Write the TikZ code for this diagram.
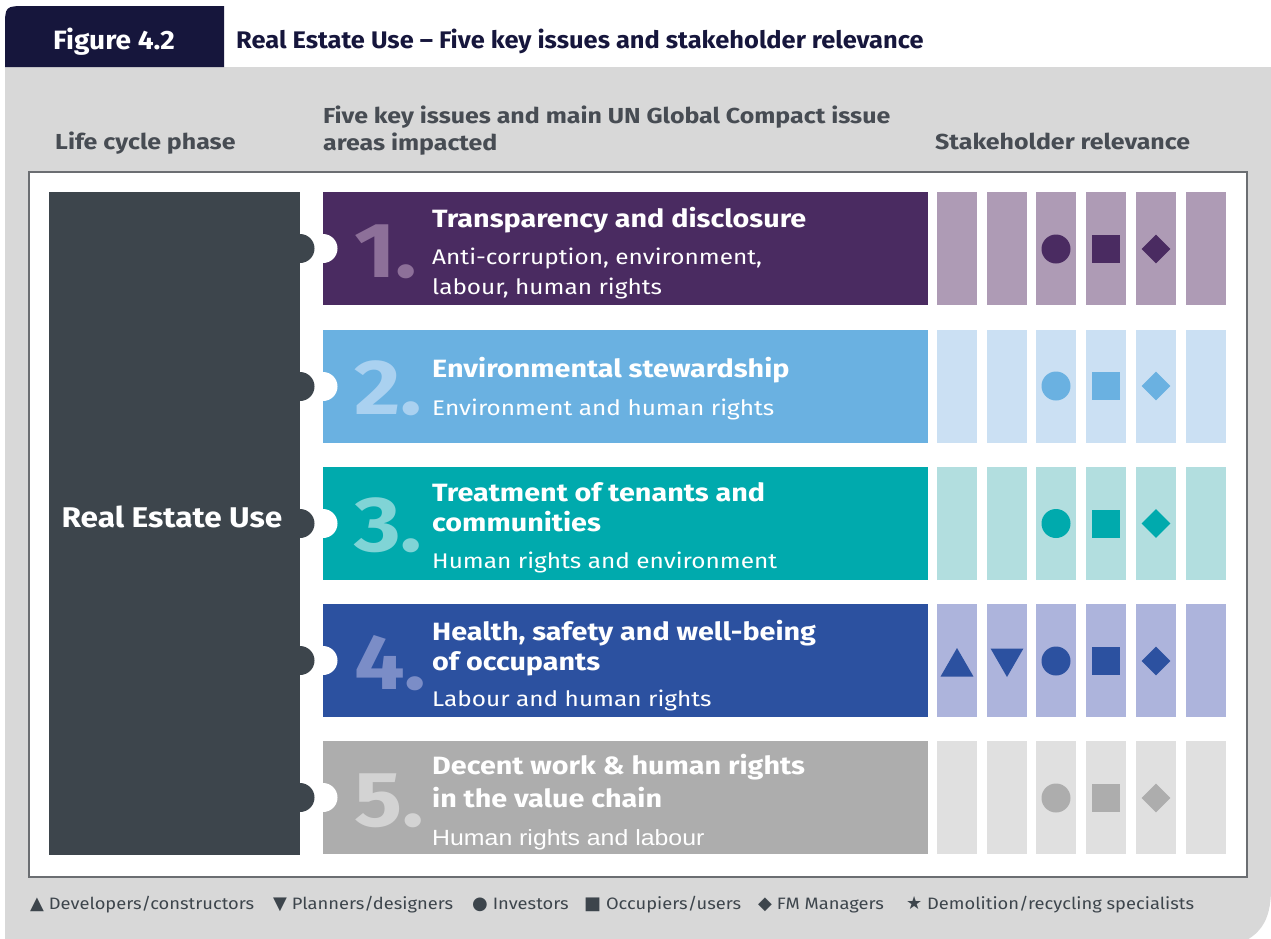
\documentclass[tikz,border=0pt]{standalone}
\usepackage{fontspec}
\setmainfont{Fira Sans}
\newfontfamily\sA[FakeStretch=1.15]{Fira Sans}
\newfontfamily\sB[FakeStretch=1.11]{Fira Sans}
\newfontfamily\sC[FakeStretch=1.06]{Fira Sans}
\newfontfamily\symfont{DejaVu Sans}
\newfontfamily\helvw[FakeStretch=1.13]{Liberation Sans}
\usetikzlibrary{shapes.geometric}
\definecolor{navy}{HTML}{16163C}
\definecolor{panel}{HTML}{D8D8D8}
\definecolor{boxline}{HTML}{6B6E72}
\definecolor{hdr}{HTML}{474C53}
\definecolor{darkcol}{HTML}{3D454C}
\definecolor{rowa}{HTML}{4A2B61}
\definecolor{rowalight}{HTML}{AE9BB5}
\definecolor{rowanum}{HTML}{8D7099}
\definecolor{rowb}{HTML}{6AB1E1}
\definecolor{rowblight}{HTML}{CBE0F3}
\definecolor{rowbnum}{HTML}{AAD1F0}
\definecolor{rowc}{HTML}{00AAAD}
\definecolor{rowclight}{HTML}{B2DEDF}
\definecolor{rowcnum}{HTML}{80D4D6}
\definecolor{rowd}{HTML}{2C51A0}
\definecolor{rowdlight}{HTML}{ADB4DC}
\definecolor{rowdnum}{HTML}{7B8DC7}
\definecolor{rowe}{HTML}{ADADAD}
\definecolor{rowelight}{HTML}{E0E0E0}
\definecolor{rowenum}{HTML}{D3D3D3}
\begin{document}
\begin{tikzpicture}[x=1pt,y=-1pt,
  box/.style={rectangle, inner sep=0pt, outer sep=0pt, anchor=north west},
  hdrtext/.style={anchor=base west, inner sep=0pt, text=hdr, font=\sA\bfseries\fontsize{21.7}{26}\selectfont, align=left},
  ttl/.style={anchor=base west, inner sep=0pt, text=white, font=\sA\bfseries\fontsize{25}{30}\selectfont},
  sub/.style={anchor=base west, inner sep=0pt, text=white, font=\sA\fontsize{21.2}{26}\selectfont},
  bignum/.style={anchor=base west, inner sep=0pt, font=\sA\bfseries\fontsize{78}{80}\selectfont},
  knobdark/.style={circle, fill=darkcol, minimum size=29pt, inner sep=0pt},
  knobwhite/.style={circle, fill=white, minimum size=29pt, inner sep=0pt},
  stake/.style={box, minimum width=40pt, minimum height=113pt},
  scirc/.style={circle, minimum size=29pt, inner sep=0pt},
  ssq/.style={rectangle, minimum size=28pt, inner sep=0pt},
  sdia/.style={diamond, minimum size=29pt, inner sep=0pt},
  striup/.style={regular polygon, regular polygon sides=3, minimum size=38pt, inner sep=0pt},
  stridown/.style={regular polygon, regular polygon sides=3, shape border rotate=180, minimum size=38pt, inner sep=0pt},
  leg/.style={anchor=base west, inner sep=0pt, text=darkcol, font=\sB\fontsize{16.5}{20}\selectfont}
]
\useasboundingbox (0,0) rectangle (1271,938);
\fill[white] (0,0) rectangle (1271,938);
% gray panel
\fill[panel] (5,67) -- (1271,67) -- (1271,888) .. controls (1271,922) and (1260,938) .. (1228,948) -- (5,948) -- cycle;
% tab
\fill[navy] (5,67) -- (5,28) .. controls (5,6) .. (27,6) -- (224,6) -- (224,67) -- cycle;
\node[anchor=base west, inner sep=0pt, text=white, font=\sC\bfseries\fontsize{26.5}{30}\selectfont] (fig) at (53,49) {Figure 4.2};
\node[anchor=base west, inner sep=0pt, text=navy, font=\sC\bfseries\fontsize{24}{28}\selectfont] (title) at (236,48) {Real Estate Use – Five key issues and stakeholder relevance};
% headers
\node[hdrtext] (h1) at (55,149) {Life cycle phase};
\node[hdrtext] (h2a) at (323,123) {Five key issues and main UN Global Compact issue};
\node[hdrtext] (h2b) at (323,150) {areas impacted};
\node[hdrtext] (h3) at (935,149) {Stakeholder relevance};
% white box
\node[box, fill=white, draw=boxline, line width=1.5pt, minimum width=1218pt, minimum height=705pt] (frame) at (29,172) {};
% rows
\foreach \i/\yt/\mc/\lc in {1/192/rowa/rowalight, 2/330/rowb/rowblight, 3/467/rowc/rowclight, 4/604/rowd/rowdlight, 5/741/rowe/rowelight}{
  \node[box, fill=\mc, minimum width=605pt, minimum height=113pt] (bar\i) at (323,\yt) {};
  \node[knobwhite] (notch\i) at (323,\yt+56.5) {};
  \foreach \c/\xc in {1/937, 2/987, 3/1036, 4/1086, 5/1136, 6/1186}{
    \node[stake, fill=\lc] (s\i\c) at (\xc,\yt) {};
  }
}
% dark column
\node[box, fill=darkcol, minimum width=251pt, minimum height=663pt] (phase) at (49,192) {};
\node[text=white, font=\sB\bfseries\fontsize{28.5}{32}\selectfont, inner sep=0pt] (phaselabel) at (172,517) {Real Estate Use};
\foreach \i/\yt in {1/192, 2/330, 3/467, 4/604, 5/741}{
  \node[knobdark] (knob\i) at (300,\yt+56.5) {};
}
% numbers
\node[bignum, text=rowanum] (n1) at (354,277) {1.};
\node[bignum, text=rowbnum] (n2) at (354,414) {2.};
\node[bignum, text=rowcnum] (n3) at (354,551) {3.};
\node[bignum, text=rowdnum] (n4) at (354,689) {4.};
\node[bignum, text=rowenum] (n5) at (354,826) {5.};
% row texts
\node[ttl] (t1) at (432,227) {Transparency and disclosure};
\node[sub] (u1a) at (432,264) {Anti-corruption, environment,};
\node[sub] (u1b) at (432,294) {labour, human rights};
\node[ttl] (t2) at (432,377) {Environmental stewardship};
\node[sub] (u2) at (432,415) {Environment and human rights};
\node[ttl] (t3a) at (432,501) {Treatment of tenants and};
\node[ttl] (t3b) at (432,531) {communities};
\node[sub] (u3) at (432,568) {Human rights and environment};
\node[ttl] (t4a) at (432,640) {Health, safety and well-being};
\node[ttl] (t4b) at (432,670) {of occupants};
\node[sub] (u4) at (432,706) {Labour and human rights};
\node[ttl] (t5a) at (432,774) {Decent work \& human rights};
\node[ttl] (t5b) at (432,807) {in the value chain};
\node[sub, font=\helvw\fontsize{22}{26}\selectfont] (u5) at (432,845) {Human rights and labour};
% symbols
\foreach \i/\yc/\mc in {1/249/rowa, 2/386/rowb, 3/523.5/rowc, 4/661/rowd, 5/798/rowe}{
  \node[scirc, fill=\mc] (c\i) at (1056,\yc) {};
  \node[ssq, fill=\mc] (q\i) at (1106,\yc) {};
  \node[sdia, fill=\mc] (d\i) at (1156,\yc) {};
}
\node[striup, fill=rowd] (up4) at (957,667) {};
\node[stridown, fill=rowd] (down4) at (1007,658) {};
% legend
\node[leg] (l1) at (30,909) {{\symfont\fontsize{18}{20}\selectfont ▲} Developers/constructors};
\node[leg] (l2) at (273,909) {{\symfont\fontsize{18}{20}\selectfont ▼} Planners/designers};
\node[leg] (l3) at (472,909) {{\symfont\fontsize{18}{20}\selectfont ●} Investors};
\node[leg] (l4) at (584,909) {{\symfont\fontsize{18}{20}\selectfont ■} Occupiers/users};
\node[leg] (l5) at (758,909) {{\symfont\fontsize{18}{20}\selectfont ◆} FM Managers};
\node[leg] (l6) at (906,909) {{\symfont\fontsize{18}{20}\selectfont ★} Demolition/recycling specialists};
\end{tikzpicture}
\end{document}
